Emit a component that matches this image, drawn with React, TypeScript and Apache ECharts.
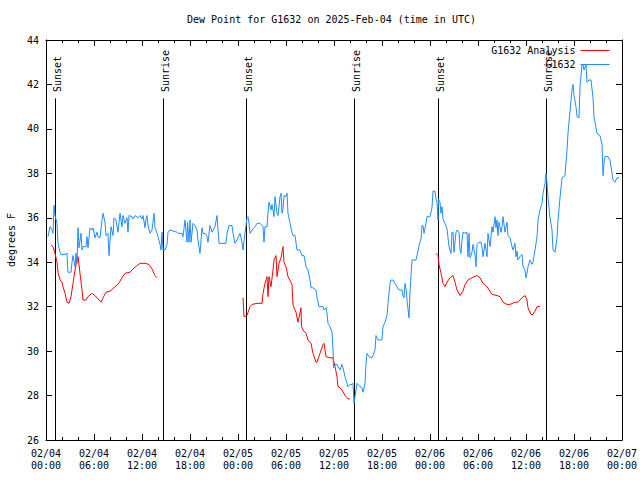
import React, { useEffect, useRef } from "react";
import * as echarts from "echarts";

// Time in hours since 2025-02-04 00:00 UTC
const xTickLabels = [
  "02/04\n00:00", "02/04\n06:00", "02/04\n12:00", "02/04\n18:00",
  "02/05\n00:00", "02/05\n06:00", "02/05\n12:00", "02/05\n18:00",
  "02/06\n00:00", "02/06\n06:00", "02/06\n12:00", "02/06\n18:00",
  "02/07\n00:00",
];

const sunHours = [1.13, 14.67, 25.04, 38.53, 49.04, 62.54];
const sunLabels = ["Sunset", "Sunrise", "Sunset", "Sunrise", "Sunset", "Sunrise"];

const blueHours = [
  0.25, 0.5, 0.75, 0.875, 1.0, 1.125, 1.375, 1.5, 1.75, 1.875, 2.375, 2.625, 2.69, 2.75, 3.125, 3.25, 3.375, 3.625, 3.75, 3.875,
  4.0, 4.125, 4.375, 4.5, 4.625, 5.0, 5.125, 5.25, 5.5, 5.75, 5.875, 6.125, 6.375, 6.5, 6.75, 7.0, 7.125, 7.375, 7.5, 7.75,
  7.875, 8.125, 8.375, 8.5, 8.75, 8.875, 9.0, 9.25, 9.5, 9.625, 9.875, 10.125, 10.25, 10.375, 10.75, 10.875, 11.125, 11.5, 11.75, 12.0,
  12.125, 12.375, 12.5, 12.625, 12.75, 13.0, 13.25, 13.5, 13.625, 13.875, 14.0, 14.25, 14.375, 14.5, 14.625, 14.875, 15.125, 15.25, 15.5, 16.375,
  16.5, 17.0, 17.125, 17.375, 17.625, 17.69, 17.875, 18.0, 18.125, 18.375, 18.625, 18.875, 19.0, 19.25, 19.5, 19.625, 19.875, 20.125, 20.25, 20.5,
  20.75, 20.875, 21.125, 21.375, 21.5, 21.625, 22.5, 22.625, 22.875, 23.25, 23.375, 23.625, 23.875, 24.0, 24.25, 24.5, 24.625, 24.875, 25.125, 25.25,
  25.375, 25.5, 25.75, 25.875, 26.125, 26.375, 26.75, 27.0, 27.125, 27.25, 27.375, 27.625, 27.75, 27.875, 28.125, 28.25, 28.375, 28.5, 28.625, 28.875,
  29.0, 29.25, 29.375, 29.5, 29.625, 29.75, 30.0, 30.125, 30.25, 30.5, 30.75, 30.875, 31.125, 31.375, 31.75, 32.0, 32.25, 32.5, 32.75, 33.0,
  33.125, 33.375, 33.75, 33.875, 34.125, 34.625, 34.75, 35.0, 35.125, 35.25, 35.5, 35.75, 35.875, 35.94, 36.125, 36.375, 36.5, 36.75, 37.0, 37.125,
  37.375, 37.625, 37.75, 38.0, 38.25, 38.375, 38.5, 38.875, 39.125, 39.5, 39.625, 39.875, 40.0, 40.125, 40.375, 40.75, 40.875, 41.125, 41.25, 41.5,
  42.0, 42.125, 42.375, 42.625, 42.75, 43.0, 43.125, 43.375, 43.625, 43.875, 44.0, 44.25, 44.5, 44.625, 44.75, 44.875, 45.0, 45.125, 45.25, 45.375,
  45.5, 45.625, 45.75, 46.25, 46.375, 46.5, 46.625, 46.875, 47.0, 47.125, 47.25, 47.5, 47.625, 48.0, 48.25, 48.375, 48.625, 48.75, 48.875, 49.0,
  49.06, 49.25, 49.375, 49.5, 49.625, 49.875, 50.125, 50.25, 50.375, 50.625, 50.75, 50.875, 51.0, 51.25, 51.375, 51.625, 51.75, 51.875, 52.0, 52.125,
  52.375, 52.625, 52.75, 52.875, 53.0, 53.25, 53.375, 53.625, 53.75, 53.875, 54.125, 54.375, 54.5, 54.625, 54.875, 55.125, 55.25, 55.5, 55.75, 55.875,
  56.125, 56.25, 56.375, 56.5, 56.625, 56.875, 57.0, 57.125, 57.375, 57.625, 57.75, 58.0, 58.25, 58.375, 58.625, 58.75, 58.875, 59.0, 59.25, 59.5,
  59.625, 59.875, 60.0, 60.125, 60.25, 60.5, 60.75, 60.875, 61.125, 61.375, 61.5, 61.75, 62.0, 62.125, 62.375, 62.5, 62.625, 62.75, 63.0, 63.25,
  63.375, 63.625, 63.875, 64.0, 64.25, 64.5, 64.875, 65.125, 65.25, 65.5, 65.75, 65.875, 66.0, 66.25, 66.375, 66.625, 66.75, 67.0, 67.125, 67.25,
  67.5, 67.625, 67.875, 68.125, 68.375, 68.5, 68.875, 69.25, 69.5, 69.625, 69.75, 69.875, 70.25, 70.5, 70.75, 70.875, 71.125, 71.375, 71.625,
];

const blueValues = [
  35.15, 35.6, 35.45, 35.3, 36.55, 36.1, 35.75, 34.85, 34.45, 34.35, 34.35, 34.4, 33.8, 33.55, 33.55, 34.0, 34.3, 33.8, 34.4, 33.95,
  35.55, 34.65, 35.3, 34.55, 34.7, 34.7, 35.15, 34.65, 35.55, 35.45, 35.55, 35.1, 35.35, 35.15, 35.1, 35.9, 36.2, 35.8, 35.2, 35.3,
  34.3, 35.6, 35.2, 36.0, 35.9, 35.6, 35.35, 36.2, 35.6, 36.1, 35.75, 36.0, 35.35, 36.1, 36.05, 35.95, 36.1, 36.0, 36.1, 35.95,
  36.1, 35.55, 35.95, 36.1, 35.65, 35.3, 35.45, 36.2, 35.55, 35.3, 35.15, 34.8, 34.55, 35.35, 34.55, 34.55, 34.8, 35.35, 35.45, 35.35,
  35.3, 35.3, 35.15, 35.9, 34.9, 35.8, 34.9, 35.9, 34.9, 35.75, 35.65, 35.45, 35.0, 34.4, 35.55, 35.3, 35.3, 35.15, 34.9, 35.65,
  35.35, 35.45, 35.6, 36.1, 35.45, 34.85, 34.85, 35.3, 35.65, 35.65, 35.3, 34.85, 35.0, 35.1, 35.3, 34.9, 34.55, 35.3, 36.0, 36.05,
  35.75, 35.3, 35.45, 35.5, 35.6, 35.75, 35.75, 35.65, 35.6, 34.9, 35.6, 35.6, 36.2, 36.7, 36.35, 36.6, 36.35, 36.05, 36.95, 36.2,
  36.1, 36.95, 37.1, 36.2, 36.4, 37.0, 36.95, 37.1, 36.2, 35.75, 35.35, 35.2, 35.2, 34.55, 34.55, 34.3, 34.3, 33.8, 33.65, 33.2,
  32.85, 32.85, 32.75, 32.4, 32.0, 32.0, 31.85, 31.95, 31.7, 31.25, 31.1, 30.85, 30.05, 29.25, 29.4, 29.4, 29.3, 29.15, 29.4, 29.25,
  28.85, 28.55, 28.4, 28.5, 28.5, 28.55, 27.65, 28.55, 28.45, 28.35, 28.15, 28.55, 29.45, 29.9, 29.75, 29.7, 29.8, 30.05, 30.7, 30.5,
  30.5, 31.1, 31.3, 31.6, 32.15, 33.05, 33.2, 33.2, 33.05, 32.9, 32.8, 32.75, 32.75, 32.5, 32.4, 33.05, 32.8, 32.3, 31.9, 31.5,
  32.65, 33.4, 34.1, 34.1, 34.3, 34.5, 34.75, 35.05, 35.65, 35.65, 35.3, 35.75, 36.05, 36.05, 36.45, 37.2, 37.2, 36.85, 36.7, 35.9,
  36.85, 36.7, 36.2, 36.5, 35.95, 35.75, 35.5, 35.1, 34.7, 34.4, 35.35, 35.35, 34.45, 35.35, 35.45, 35.35, 34.55, 34.4, 35.0, 35.35,
  35.3, 35.35, 34.25, 35.3, 34.2, 34.45, 34.8, 34.35, 33.8, 34.8, 34.9, 34.9, 34.7, 34.25, 34.85, 34.25, 35.3, 34.7, 35.6, 35.35,
  36.05, 35.55, 35.9, 35.2, 35.8, 35.35, 35.6, 36.05, 35.35, 35.8, 35.2, 35.1, 34.7, 34.55, 34.85, 34.25, 34.5, 34.1, 34.25, 34.35,
  33.8, 33.65, 33.3, 33.5, 33.8, 34.1, 33.9, 34.0, 34.55, 35.15, 35.9, 36.35, 36.65, 37.1, 37.55, 38.0, 37.55, 36.9, 36.0, 35.45,
  34.55, 34.45, 35.1, 35.9, 36.9, 37.8, 37.9, 39.05, 39.8, 40.8, 41.75, 42.0, 41.5, 41.0, 40.55, 40.5, 41.9, 42.9, 42.9, 42.65,
  42.9, 42.1, 42.2, 42.2, 41.4, 40.55, 39.8, 39.7, 39.3, 37.9, 38.45, 38.75, 38.75, 38.6, 38.0, 37.7, 37.6, 37.8, 37.8,
];

// null entries separate the three analysis segments
const redHours = [
  0.625, 0.875, 1.125, 1.375, 1.5, 1.75, 2.0, 2.125, 2.375, 2.625, 2.875, 3.125, 3.375, 3.625, 3.875, 4.0, 4.25, 4.5, 4.625, 5.0,
  5.25, 5.75, 6.125, 6.5, 6.875, 7.125, 7.5, 8.0, 8.625, 9.0, 9.5, 9.875, 10.5, 10.875, 11.75, 12.375, 12.875, 13.25, 13.625, 13.875,
  19.0,
  24.625, 24.75, 25.125, 25.5, 25.75, 26.375, 27.0, 27.125, 27.375, 27.625, 27.75, 27.875, 28.125, 28.375, 28.5, 28.75, 28.875, 29.125, 29.375, 29.625,
  29.75, 30.0, 30.25, 30.625, 30.75, 30.875, 31.0, 31.25, 31.5, 31.875, 31.94, 32.125, 32.5, 32.75, 33.125, 33.375, 33.75, 33.875, 34.25, 34.625,
  34.75, 35.0, 35.5, 35.875, 36.125, 36.375, 36.5, 36.75, 37.0, 37.375, 37.75, 38.0,
  43.0,
  48.75, 49.0, 49.125, 49.375, 49.625, 49.875, 50.125, 50.5, 50.875, 51.125, 51.375, 51.75, 52.125, 52.375, 52.75, 53.25, 53.875, 54.25, 54.625, 55.125,
  55.75, 56.375, 56.75, 57.125, 57.625, 58.0, 58.625, 59.0, 59.5, 59.875, 60.125, 60.25, 60.625, 60.875, 61.125, 61.375, 61.75,
];

const redValues = [
  34.77, 34.7, 34.4, 34.0, 33.55, 33.2, 33.1, 32.9, 32.6, 32.2, 32.15, 32.45, 33.05, 33.65, 34.1, 34.25, 33.5, 32.75, 32.3, 32.3,
  32.45, 32.6, 32.5, 32.35, 32.2, 32.4, 32.65, 32.7, 32.9, 33.0, 33.3, 33.5, 33.55, 33.7, 33.95, 33.95, 33.9, 33.7, 33.4, 33.3,
  null,
  32.4, 31.55, 31.6, 32.0, 32.1, 32.15, 32.15, 32.6, 33.05, 33.35, 32.45, 33.35, 32.9, 33.65, 34.1, 34.3, 33.35, 33.95, 34.2, 34.7,
  34.0, 33.8, 33.35, 33.1, 33.0, 32.1, 31.95, 31.75, 31.3, 31.95, 31.1, 30.95, 30.8, 30.5, 30.35, 29.9, 29.5, 29.5, 29.9, 30.3,
  30.35, 29.75, 29.7, 29.7, 29.3, 28.85, 28.4, 28.35, 28.25, 28.0, 27.85, 27.85,
  null,
  34.4, 34.3, 33.9, 33.5, 33.05, 32.9, 33.1, 33.3, 33.4, 33.1, 32.75, 32.5, 32.7, 33.0, 33.2, 33.3, 33.4, 33.3, 33.05, 32.9,
  32.55, 32.5, 32.45, 32.2, 32.1, 32.1, 32.2, 32.2, 32.4, 32.5, 32.3, 31.95, 31.65, 31.65, 31.8, 32.0, 32.0,
];

const FONT = "DejaVu Sans Mono";

export default function App() {
  const ref = useRef<HTMLDivElement>(null);
  useEffect(() => {
    if (!ref.current) return;
    const chart = echarts.init(ref.current, undefined, { renderer: "svg" });
    const blueData = blueHours.map((h, i) => [h, blueValues[i]]);
    const redData = redHours.map((h, i) => [h, redValues[i]]);
    const sunData = sunHours.map((h) => [h, 26]);
    const txt = { fontFamily: FONT, fontSize: 10, color: "#000" };
    const xCommon = {
      type: "value",
      min: 0,
      max: 72,
      interval: 6,
      axisLine: { show: true, onZero: false, lineStyle: { color: "#000", width: 1 } },
      axisTick: { show: true, inside: true, length: 6, lineStyle: { color: "#000" } },
      minorTick: { show: true, splitNumber: 3, length: 3, lineStyle: { color: "#000" } },
      splitLine: { show: false },
    };
    const yCommon = {
      type: "value",
      min: 26,
      max: 44,
      interval: 2,
      axisLine: { show: true, onZero: false, lineStyle: { color: "#000", width: 1 } },
      axisTick: { show: true, inside: true, length: 6, lineStyle: { color: "#000" } },
      splitLine: { show: false },
    };
    chart.setOption({
      animation: false,
      backgroundColor: "#fff",
      title: {
        text: "Dew Point for G1632 on 2025-Feb-04 (time in UTC)",
        left: 187,
        top: 14,
        padding: 0,
        textStyle: { ...txt, fontWeight: "normal" },
      },
      legend: {
        data: ["G1632 Analysis", "G1632"],
        orient: "vertical",
        right: 30,
        top: 44,
        align: "right",
        itemWidth: 29,
        itemHeight: 13,
        itemGap: 1,
        padding: 0,
        itemStyle: { opacity: 0 },
        lineStyle: { width: 1 },
        textStyle: { ...txt, lineHeight: 13 },
      },
      grid: {
        left: 46,
        right: 18,
        top: 40,
        bottom: 40,
        containLabel: false,
        outerBoundsMode: "none",
        show: false,
      },
      xAxis: [
        {
          ...xCommon,
          position: "bottom",
          axisLabel: {
            ...txt,
            margin: 7,
            lineHeight: 12.5,
            formatter: (v: number) => xTickLabels[Math.round(v / 6)] ?? "",
          },
        },
        { ...xCommon, position: "top", axisLabel: { show: false } },
      ],
      yAxis: [
        {
          ...yCommon,
          position: "left",
          name: "degrees F",
          nameLocation: "middle",
          nameGap: 30,
          nameTextStyle: { ...txt },
          axisLabel: { ...txt, margin: 7 },
        },
        { ...yCommon, position: "right", axisLabel: { show: false } },
      ],
      series: [
        {
          name: "sun",
          type: "custom",
          z: 1,
          silent: true,
          clip: false,
          data: sunData,
          renderItem: (params: any, api: any) => {
            const t = api.value(0);
            const idx = params.dataIndex;
            const p0 = api.coord([t, 26]);
            const p1 = api.coord([t, 41.37]);
            const pt = api.coord([t, 41.66]);
            const x = Math.round(p0[0]) + 0.5;
            return {
              type: "group",
              children: [
                {
                  type: "line",
                  shape: { x1: x, y1: p0[1], x2: x, y2: p1[1] },
                  style: { stroke: "#000", lineWidth: 1 },
                },
                {
                  type: "text",
                  x: x + 2,
                  y: pt[1],
                  rotation: Math.PI / 2,
                  style: {
                    text: sunLabels[idx],
                    fontFamily: FONT,
                    fontSize: 10,
                    fill: "#000",
                    align: "left",
                    verticalAlign: "middle",
                  },
                },
              ],
            };
          },
        },
        {
          name: "G1632 Analysis",
          type: "line",
          z: 2,
          data: redData,
          symbol: "none",
          showSymbol: false,
          connectNulls: false,
          lineStyle: { color: "#ff0000", width: 1 },
          itemStyle: { color: "#ff0000" },
        },
        {
          name: "G1632",
          type: "line",
          z: 3,
          data: blueData,
          symbol: "none",
          showSymbol: false,
          lineStyle: { color: "#1e8cff", width: 1 },
          itemStyle: { color: "#1e8cff" },
        },
      ],
    });
    return () => chart.dispose();
  }, []);
  return <div ref={ref} style={{ width: 640, height: 480, position: "absolute", left: 0, top: 0 }} />;
}
